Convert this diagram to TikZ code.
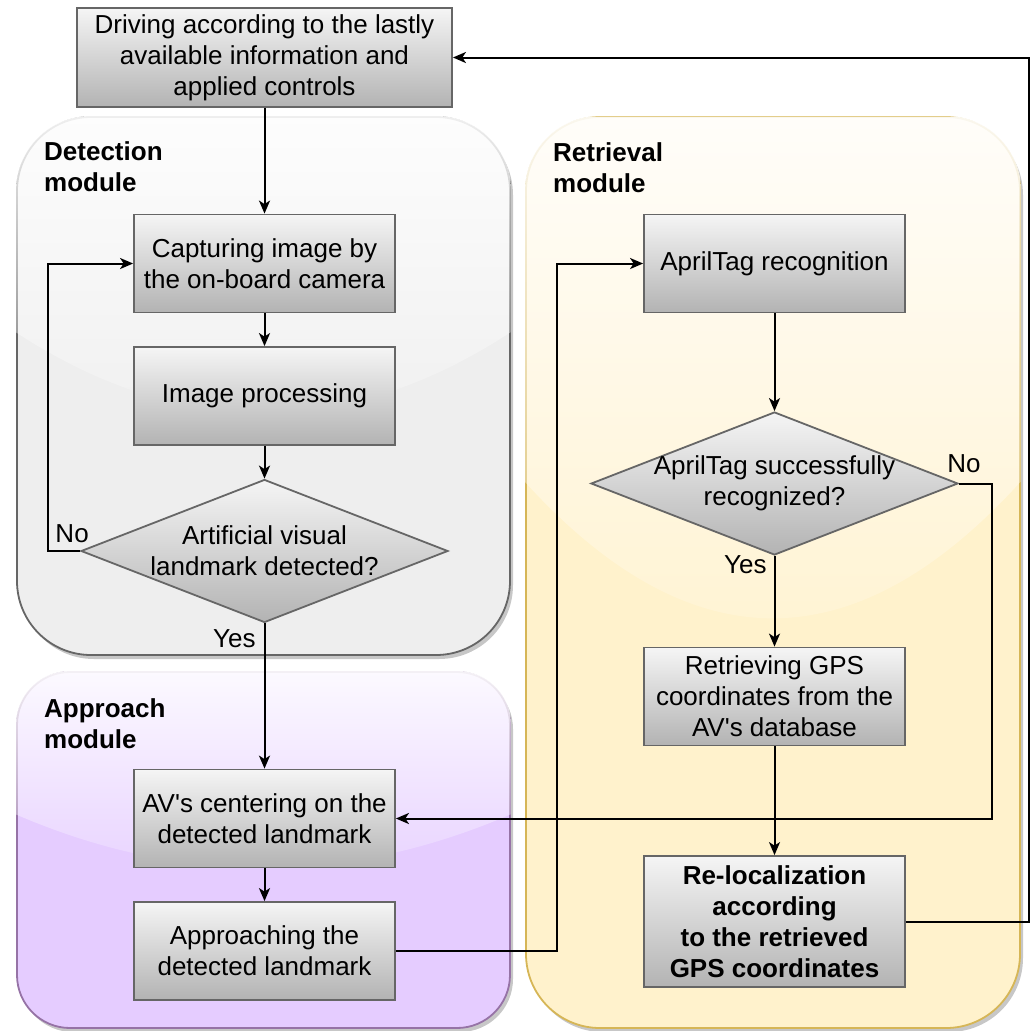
\documentclass[tikz,border=0pt]{standalone}
\usepackage{fontspec}
\setmainfont{Liberation Sans}
\usetikzlibrary{shapes.geometric,arrows.meta,shadows,fadings}

\definecolor{boxtop}{HTML}{F5F5F5}
\definecolor{boxbot}{HTML}{B3B3B3}
\definecolor{boxline}{HTML}{666666}
\definecolor{detfill}{HTML}{EEEEEE}
\definecolor{detline}{HTML}{666666}
\definecolor{appfill}{HTML}{E5CCFF}
\definecolor{appline}{HTML}{9673A6}
\definecolor{retfill}{HTML}{FFF2CC}
\definecolor{retline}{HTML}{D6B656}

\newcommand\basefont{\fontsize{26pt}{31pt}\selectfont}

\tikzfading[name=glassfade, top color=transparent!10, bottom color=transparent!90]

\tikzset{
  module/.style={line width=1.8pt, drop shadow={shadow xshift=3pt, shadow yshift=-4pt, fill=black!22, opacity=1}},
  glass/.style={fill=white, path fading=glassfade},
  procbox/.style={draw=boxline, line width=1.8pt, top color=boxtop, bottom color=boxbot,
    minimum width=261pt, minimum height=98pt, align=center, inner sep=0pt},
  decision/.style={diamond, draw=boxline, line width=1.8pt, top color=boxtop, bottom color=boxbot,
    inner sep=0pt, minimum width=367pt, minimum height=143pt},
  modlabel/.style={anchor=base west, align=left, font=\basefont\bfseries, inner sep=0pt},
  flow/.style={line width=2pt, -{Stealth[length=13pt,width=11pt,inset=3.5pt]}},
  lbl/.style={inner sep=0pt}
}

\begin{document}
\begin{tikzpicture}[x=1pt, y=-1pt, font=\basefont]
  \useasboundingbox (0,0) rectangle (1030,1031);

  % module containers
  \draw[module, draw=detline, fill=detfill, rounded corners=74pt] (17,117) rectangle (510,655);
  \draw[module, draw=appline, fill=appfill, rounded corners=53pt] (17,672) rectangle (510,1028);
  \draw[module, draw=retline, fill=retfill, rounded corners=74pt] (526,117) rectangle (1020,1028);

  \begin{scope}
    \clip[rounded corners=74pt] (16,116) rectangle (511,656);
    \fill[glass] (16,116) -- (511,116) -- (511,332.2) .. controls (345.67,439.8) and (181.33,439.8) .. (16,332.2) -- cycle;
  \end{scope}
  \begin{scope}
    \clip[rounded corners=53pt] (16,671) rectangle (511,1029);
    \fill[glass] (16,671) -- (511,671) -- (511,814.4) .. controls (345.67,885.6) and (181.33,885.6) .. (16,814.4) -- cycle;
  \end{scope}
  \begin{scope}
    \clip[rounded corners=74pt] (525,116) rectangle (1021,1029);
    \fill[glass] (525,116) -- (1021,116) -- (1021,481.4) .. controls (855.33,663.6) and (690.67,663.6) .. (525,481.4) -- cycle;
  \end{scope}

  \node[modlabel] (detlabel) at (44,191) {Detection\\module};
  \node[modlabel] (retlabel) at (553,192) {Retrieval\\module};
  \node[modlabel] (applabel) at (44,748) {Approach\\module};

  % process steps
  \begin{scope}[every node/.style={procbox}]
    \node[minimum width=375pt, minimum height=99pt] (drive) at (264.5,57.5)
      {Driving according to the lastly\\available information and\\applied controls};
    \node (capture)  at (264.5,263.5) {Capturing image by\\the on-board camera};
    \node (improc)   at (264.5,396)   {Image processing};
    \node (center)   at (264.5,818.5) {AV\textquotesingle s centering on the\\detected landmark};
    \node (appr)     at (264.5,951)   {Approaching the\\detected landmark};
    \node (april)    at (774.5,263.5) {AprilTag recognition};
    \node (retrieve) at (774.5,696.5) {Retrieving GPS\\coordinates from the\\AV\textquotesingle s database};
    \node[minimum height=131pt, font=\basefont\bfseries] (reloc) at (774.5,921.5)
      {Re-localization\\according\\to the retrieved\\GPS coordinates};
  \end{scope}

  \node[decision, label={[align=center, inner sep=0pt]center:{Artificial visual\\landmark detected?}}]
    (detect) at (264.5,551) {};
  \node[decision, label={[align=center, inner sep=0pt]center:{AprilTag successfully\\recognized?}}]
    (decide) at (774.5,483.5) {};

  % connectors
  \draw[flow] (drive) -- (capture);
  \draw[flow] (capture) -- (improc);
  \draw[flow] (improc) -- (detect);
  \draw[flow] (detect.west) node[lbl, anchor=base, xshift=-8pt, yshift=9pt] {No}
    -- ++(-32,0) |- (capture.west);
  \draw[flow] (detect.south) node[lbl, anchor=base east, xshift=-8pt, yshift=-24pt] {Yes}
    -- (center.north);
  \draw[flow] (center) -- (appr);
  \draw[flow] (appr.east) -- ++(161,0) |- (april.west);
  \draw[flow] (april) -- (decide);
  \draw[flow] (decide.east) node[lbl, anchor=base, xshift=5pt, yshift=11pt] {No}
    -- ++(33,0) |- (center.east);
  \draw[flow] (decide.south) node[lbl, anchor=base east, xshift=-7pt, yshift=-18pt] {Yes}
    -- (retrieve.north);
  \draw[flow] (retrieve) -- (reloc);
  \draw[flow] (reloc.east) -- ++(123,0) |- (drive.east);

\end{tikzpicture}
\end{document}
